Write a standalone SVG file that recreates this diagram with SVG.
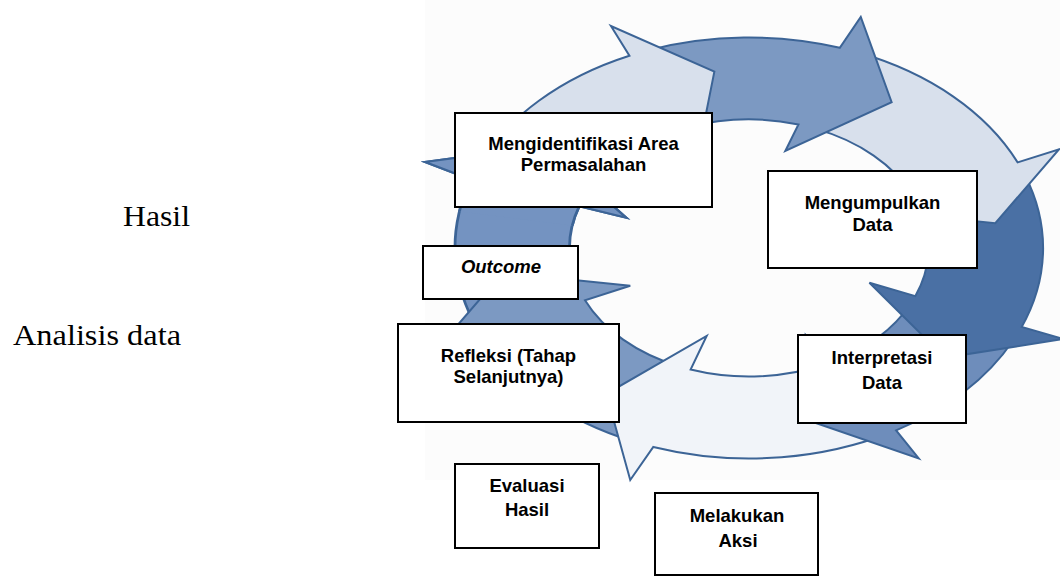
<svg xmlns="http://www.w3.org/2000/svg" width="1060" height="576" viewBox="0 0 1060 576">
<style>
.bg{fill:#fcfcfc}
.arr{stroke:#3c6496;stroke-width:2;stroke-linejoin:miter;vector-effect:non-scaling-stroke}
.pale{fill:#d8e0ec}
.med{fill:#7c99c2}
.med2{fill:#6e8dbb}
.med3{fill:#7493c1}
.dark{fill:#4a70a4}
.white{fill:#f1f4f9}
.box{fill:#fff;stroke:#000;stroke-width:2}
.lbl{font-family:"Liberation Sans",Arial,sans-serif;font-weight:bold;font-size:18.5px;text-anchor:middle;fill:#000}
.it{font-style:italic}
.side{font-family:"Liberation Serif","Times New Roman",serif;font-size:29px;fill:#000}
</style>
<defs>
<clipPath id="hHead"><path d="M0 0 L-295.4 -52.1 A300 300 0 0 1 -192.8 -229.8 Z"/></clipPath>
<path id="arrH" d="M-197.8 72 A210.5 210.5 0 0 1 -199 -68.5 L-232 -86 L-145.8 -102.1 L-87.9 -30.3 L-121.5 -41.8 A128.5 128.5 0 0 0 -120.8 44 Z"/>
</defs>
<rect class="bg" x="425" y="0" width="635" height="480"/>
<g id="cycle-arrows" transform="translate(749 248) scale(1.397 1)">
<use href="#arrH" class="arr med3"/>
<path class="arr med" d="M-82.2 193.8 A210.5 210.5 0 0 1 -192.3 85.6 L-222 98.8 L-176.3 24.8 L-85 37.8 L-117.4 52.3 A128.5 128.5 0 0 0 -50.2 118.3 Z"/>
<path class="arr white" d="M92.3 189.2 A210.5 210.5 0 0 1 -68.5 199 L-85 232 L-102.1 145.8 L-30.3 87.9 L-41.8 121.5 A128.5 128.5 0 0 0 56.3 115.5 Z"/>
<path class="arr med2" d="M189.2 92.3 A210.5 210.5 0 0 1 105.3 182.3 L121.5 210.4 L43.1 172.7 L40.6 87 L60.3 113.5 A128.5 128.5 0 0 0 115.5 56.3 Z"/>
<path class="arr dark" d="M197.8 -72 A210.5 210.5 0 0 1 195.2 78.9 L225.3 91 L140.3 109.6 L86.2 34.8 L119.1 48.1 A128.5 128.5 0 0 0 120.8 -43.9 Z"/>
<path class="arr pale" d="M78.9 -195.2 A210.5 210.5 0 0 1 192.3 -85.6 L222 -98.8 L176.3 -24.8 L85 -37.8 L117.4 -52.3 A128.5 128.5 0 0 0 48.1 -119.1 Z"/>
<path class="arr med" d="M-72 -197.8 A210.5 210.5 0 0 1 65 -200.2 L80 -231 L102.1 -145.8 L26 -97 L35.4 -123.5 A128.5 128.5 0 0 0 -43.9 -120.8 Z"/>
<path class="arr pale" d="M-193.8 -82.2 A210.5 210.5 0 0 1 -85.6 -192.3 L-98.8 -222 L-24.8 -176.3 L-37.8 -85 L-52.3 -117.4 A128.5 128.5 0 0 0 -118.3 -50.2 Z"/>
<use href="#arrH" class="arr med3" clip-path="url(#hHead)"/>
</g>
<text class="side" x="123" y="226" textLength="67" lengthAdjust="spacingAndGlyphs">Hasil</text>
<text class="side" x="13" y="345" textLength="168" lengthAdjust="spacingAndGlyphs">Analisis data</text>
<g id="node-identifikasi">
<rect class="box" x="455" y="113" width="257" height="94"/>
<text class="lbl" x="583.5" y="150">Mengidentifikasi Area</text>
<text class="lbl" x="583.5" y="171">Permasalahan</text>
</g>
<g id="node-mengumpulkan">
<rect class="box" x="768" y="171" width="209" height="97"/>
<text class="lbl" x="872.5" y="209">Mengumpulkan</text>
<text class="lbl" x="872.5" y="231">Data</text>
</g>
<g id="node-outcome">
<rect class="box" x="423" y="246" width="155" height="53"/>
<text class="lbl it" x="501" y="273">Outcome</text>
</g>
<g id="node-refleksi">
<rect class="box" x="398" y="324" width="221" height="98"/>
<text class="lbl" x="508.5" y="362">Refleksi (Tahap</text>
<text class="lbl" x="508.5" y="383">Selanjutnya)</text>
</g>
<g id="node-interpretasi">
<rect class="box" x="798" y="335" width="168" height="88"/>
<text class="lbl" x="882" y="364">Interpretasi</text>
<text class="lbl" x="882" y="389">Data</text>
</g>
<g id="node-evaluasi">
<rect class="box" x="455" y="464" width="144" height="84"/>
<text class="lbl" x="527" y="492">Evaluasi</text>
<text class="lbl" x="527" y="516">Hasil</text>
</g>
<g id="node-melakukan">
<rect class="box" x="655" y="493" width="163" height="82"/>
<text class="lbl" x="737" y="522">Melakukan</text>
<text class="lbl" x="738" y="547">Aksi</text>
</g>
</svg>
